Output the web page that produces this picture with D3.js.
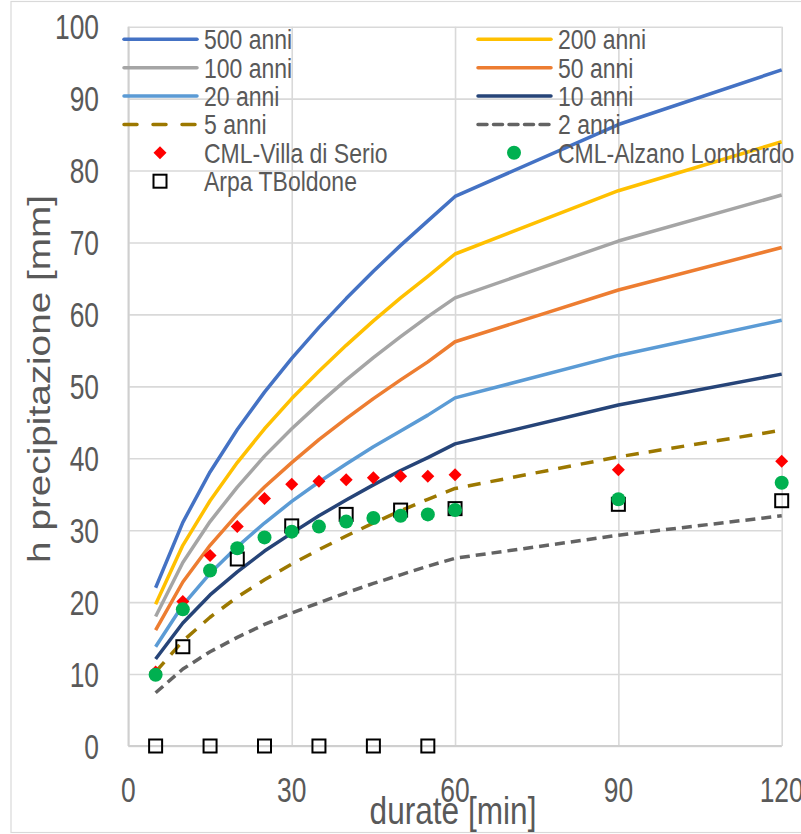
<!DOCTYPE html>
<html>
<head>
<meta charset="utf-8">
<script src="https://cdn.jsdelivr.net/npm/d3@7/dist/d3.min.js"></script>
<style>
  html, body { margin: 0; padding: 0; background: #fff; }
  svg { display: block; }
</style>
</head>
<body>
<svg id="chart" width="801" height="834"></svg>
<script>
// Durations [min]
const durations = [5, 10, 15, 20, 25, 30, 35, 40, 45, 50, 55, 60, 90, 120];

// Rainfall depth h [mm] for each return period
const T500 = [22.0, 31.1, 38.1, 44.0, 49.2, 53.9, 58.2, 62.2, 66.0, 69.6, 73.0, 76.4, 86.4, 94.0];
const T200 = [19.7, 27.9, 34.1, 39.4, 44.1, 48.3, 52.1, 55.7, 59.1, 62.3, 65.3, 68.4, 77.2, 84.0];
const T100 = [18.0, 25.5, 31.2, 36.0, 40.3, 44.1, 47.6, 50.9, 54.0, 56.9, 59.7, 62.3, 70.2, 76.6];
const T50  = [16.1, 22.8, 27.9, 32.2, 36.0, 39.4, 42.6, 45.5, 48.3, 50.9, 53.4, 56.2, 63.4, 69.3];
const T20  = [13.8, 19.6, 24.0, 27.7, 31.0, 34.0, 36.7, 39.2, 41.6, 43.8, 46.0, 48.4, 54.3, 59.2];
const T10  = [12.1, 17.1, 21.0, 24.2, 27.1, 29.6, 32.0, 34.2, 36.3, 38.3, 40.1, 42.0, 47.4, 51.7];
const T5   = [10.3, 14.6, 17.9, 20.7, 23.1, 25.3, 27.3, 29.2, 31.0, 32.7, 34.3, 35.8, 40.2, 43.9];
const T2   = [7.4, 10.7, 13.1, 15.1, 16.9, 18.5, 19.9, 21.3, 22.6, 23.8, 25.0, 26.1, 29.3, 32.0];

// Observed maxima at the stations
const villaDiSerio   = [10.3, 20.1, 26.5, 30.5, 34.4, 36.4, 36.8, 37.0, 37.3, 37.5, 37.5, 37.7, 38.4, 39.6];
const alzanoLombardo = [9.9, 19.0, 24.4, 27.5, 29.0, 29.8, 30.5, 31.2, 31.7, 32.0, 32.2, 32.8, 34.3, 36.6];
const arpaTBoldone   = [0, 13.8, 0, 26.0, 0, 30.6, 0, 32.2, 0, 32.8, 0, 33.0, 33.6, 34.1];

// Axis ticks
const xTicks = [0, 30, 60, 90, 120];
const yTicks = [0, 10, 20, 30, 40, 50, 60, 70, 80, 90, 100];

const curveNames = ["500 anni", "200 anni", "100 anni", "50 anni", "20 anni", "10 anni", "5 anni", "2 anni"];
const curveValues = [T500, T200, T100, T50, T20, T10, T5, T2];
const curveColors = ["#4472C4", "#FFC000", "#A5A5A5", "#ED7D31", "#5B9BD5", "#264478", "#9C7800", "#636363"];
const curveDash = [null, null, null, null, null, null, "13,10", "10,6"];

const FONT = "'Liberation Sans', Arial, sans-serif";
const TEXT = "#595959";
const GRID = "#d9d9d9";

const svg = d3.select("#chart");

const x = d3.scaleLinear().domain([0, 120]).range([128.4, 781.7]);
const y = d3.scaleLinear().domain([0, 100]).range([746, 26.7]);

// text drawn with a vertical stretch (condensed look)
function label(parent, px, py, str, size, stretch, anchor, rotate) {
  const g = parent.append("g")
    .attr("transform", `translate(${px},${py}) scale(1,${stretch})` + (rotate ? ` rotate(${rotate})` : ""));
  g.append("text")
    .attr("x", 0).attr("y", 0)
    .attr("font-family", FONT)
    .attr("font-size", size)
    .attr("fill", TEXT)
    .attr("text-anchor", anchor)
    .text(str);
  return g;
}

// chart frame
svg.append("rect")
  .attr("x", 11).attr("y", 1.5)
  .attr("width", 830).attr("height", 831)
  .attr("fill", "none").attr("stroke", GRID).attr("stroke-width", 1.2);

// gridlines
const grid = svg.append("g");
grid.append("g")
  .attr("transform", `translate(0,${y(0)})`)
  .call(d3.axisBottom(x).tickValues(xTicks).tickSize(-(y(0) - y(100))).tickFormat(""))
  .call(g => g.select(".domain").remove())
  .call(g => g.selectAll("line").attr("stroke", GRID).attr("stroke-width", 1.6));
grid.append("g")
  .attr("transform", `translate(${x(0)},0)`)
  .call(d3.axisLeft(y).tickValues(yTicks).tickSize(-(x(120) - x(0))).tickFormat(""))
  .call(g => g.select(".domain").remove())
  .call(g => g.selectAll("line").attr("stroke", GRID).attr("stroke-width", 1.6));

// axis lines
svg.append("line").attr("x1", x(0)).attr("x2", x(0)).attr("y1", y(0)).attr("y2", y(100))
  .attr("stroke", "#cfcfcf").attr("stroke-width", 1.8);
svg.append("line").attr("x1", x(0)).attr("x2", x(120)).attr("y1", y(0)).attr("y2", y(0))
  .attr("stroke", "#cfcfcf").attr("stroke-width", 1.8);

// tick labels
const axesText = svg.append("g");
yTicks.forEach(v => label(axesText, 99, y(v) + 12.5, String(v), 26.4, 1.32, "end"));
xTicks.forEach(v => label(axesText, x(v), 802, String(v), 26.4, 1.32, "middle"));

// axis titles
label(axesText, 453, 824, "durate [min]", 31.6, 1.2, "middle");
label(axesText, 50, 379, "h precipitazione [mm]", 32, 1.21, "middle", -90);

// return-period curves
const line = d3.line().x(d => x(d[0])).y(d => y(d[1]));
const curves = svg.append("g");
curveValues.forEach((vals, i) => {
  curves.append("path")
    .datum(durations.map((t, k) => [t, vals[k]]))
    .attr("d", line)
    .attr("fill", "none")
    .attr("stroke", curveColors[i])
    .attr("stroke-width", 3.5)
    .attr("stroke-linejoin", "round")
    .attr("stroke-dasharray", curveDash[i]);
});

// markers
const diamond = d3.symbol().type(d3.symbolDiamond2).size(150);
function drawDiamond(g, cx, cy) {
  g.append("path").attr("d", diamond()).attr("transform", `translate(${cx},${cy}) rotate(45)`)
    .attr("fill", "#FF0000");
}
function drawDiamondSq(g, cx, cy) {
  g.append("rect").attr("x", -4.6).attr("y", -4.6).attr("width", 9.2).attr("height", 9.2)
    .attr("transform", `translate(${cx},${cy}) rotate(45)`).attr("fill", "#FF0000");
}
function drawCircle(g, cx, cy) {
  g.append("circle").attr("cx", cx).attr("cy", cy).attr("r", 7).attr("fill", "#00B050");
}
function drawSquare(g, cx, cy) {
  g.append("rect").attr("x", cx - 6.5).attr("y", cy - 6.5).attr("width", 13).attr("height", 13)
    .attr("fill", "none").attr("stroke", "#000").attr("stroke-width", 2);
}

const pts = svg.append("g");
durations.forEach((t, k) => drawDiamondSq(pts, x(t), y(villaDiSerio[k])));
durations.forEach((t, k) => drawSquare(pts, x(t), y(arpaTBoldone[k])));
durations.forEach((t, k) => drawCircle(pts, x(t), y(alzanoLombardo[k])));

// legend
const legend = svg.append("g");
const rowY = [39.3, 67.7, 96, 124.4, 152.8, 181.2];
const cols = [{ x1: 124, x2: 197, mx: 160, tx: 204 }, { x1: 478, x2: 551, mx: 514, tx: 558 }];
curveNames.forEach((name, i) => {
  const c = cols[i % 2];
  const ry = rowY[Math.floor(i / 2)];
  legend.append("line")
    .attr("x1", c.x1).attr("x2", c.x2).attr("y1", ry).attr("y2", ry)
    .attr("stroke", curveColors[i]).attr("stroke-width", 3.5)
    .attr("stroke-linecap", "round")
    .attr("stroke-dasharray", i === 6 ? "13,16" : (i === 7 ? "9,6.5" : null));
  label(legend, c.tx, ry + 10, name, 23, 1.17, "start");
});
drawDiamondSq(legend, cols[0].mx, rowY[4]);
label(legend, cols[0].tx, rowY[4] + 10, "CML-Villa di Serio", 23, 1.17, "start");
drawCircle(legend, cols[1].mx, rowY[4]);
label(legend, cols[1].tx, rowY[4] + 10, "CML-Alzano Lombardo", 23, 1.17, "start");
drawSquare(legend, cols[0].mx, rowY[5]);
label(legend, cols[0].tx, rowY[5] + 10, "Arpa TBoldone", 23, 1.17, "start");
</script>
</body>
</html>
